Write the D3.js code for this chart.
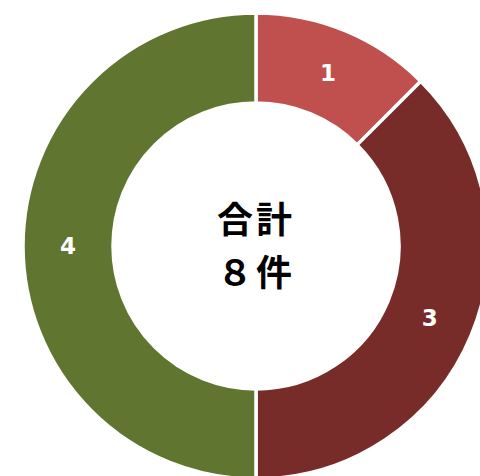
<!DOCTYPE html>
<html>
<head>
<meta charset="utf-8">
<script src="https://cdn.jsdelivr.net/npm/d3@7"></script>
<style>
  body { margin: 0; background: #fff; }
  svg { display: block; }
</style>
</head>
<body>
<svg class="donut-chart"></svg>
<script>
// chart data
let categories = ['A', 'B', 'C'];
let values = [1, 3, 4];
let colors = ['#C0504D', '#772C2A', '#5F7530'];
let centerLines = ['合計', '８件'];

let width = 480;
let height = 476;
let cx = 256;
let cy = 246;
let outerR = 233;
let innerR = 143;

let svg = d3.select('.donut-chart')
	.attr('width', width)
	.attr('height', height)
	.append('g')
	.attr('transform', 'translate(' + cx + ',' + cy + ')');

let pie = d3.pie()
	.sort(null)
	.value(function(d) { return d; });

let arc = d3.arc()
	.innerRadius(innerR)
	.outerRadius(outerR);

let arcs = pie(values);

// slices
svg.selectAll('.slice')
	.data(arcs)
	.enter().append('path')
	.attr('class', 'slice')
	.attr('d', arc)
	.attr('fill', function(d, i) { return colors[i]; })
	.attr('stroke', '#fff')
	.attr('stroke-width', 3.5);

// value labels
svg.selectAll('.slice-label')
	.data(arcs)
	.enter().append('text')
	.attr('class', 'slice-label')
	.attr('transform', function(d) { return 'translate(' + arc.centroid(d) + ')'; })
	.attr('text-anchor', 'middle')
	.attr('dy', '0.36em')
	.style('font-family', '"DejaVu Sans", Verdana, sans-serif')
	.style('font-weight', 'bold')
	.style('font-size', '23px')
	.style('fill', '#fff')
	.text(function(d) { return d.data; });

// center total text
svg.selectAll('.center-label')
	.data(centerLines)
	.enter().append('text')
	.attr('class', 'center-label')
	.attr('text-anchor', 'middle')
	.attr('y', function(d, i) { return -26 + i * 53; })
	.attr('dy', '0.36em')
	.style('font-family', '"Noto Sans CJK JP", sans-serif')
	.style('font-weight', 'bold')
	.style('font-size', '36px')
	.style('letter-spacing', '3px')
	.style('fill', '#000')
	.text(function(d) { return d; });
</script>
</body>
</html>
